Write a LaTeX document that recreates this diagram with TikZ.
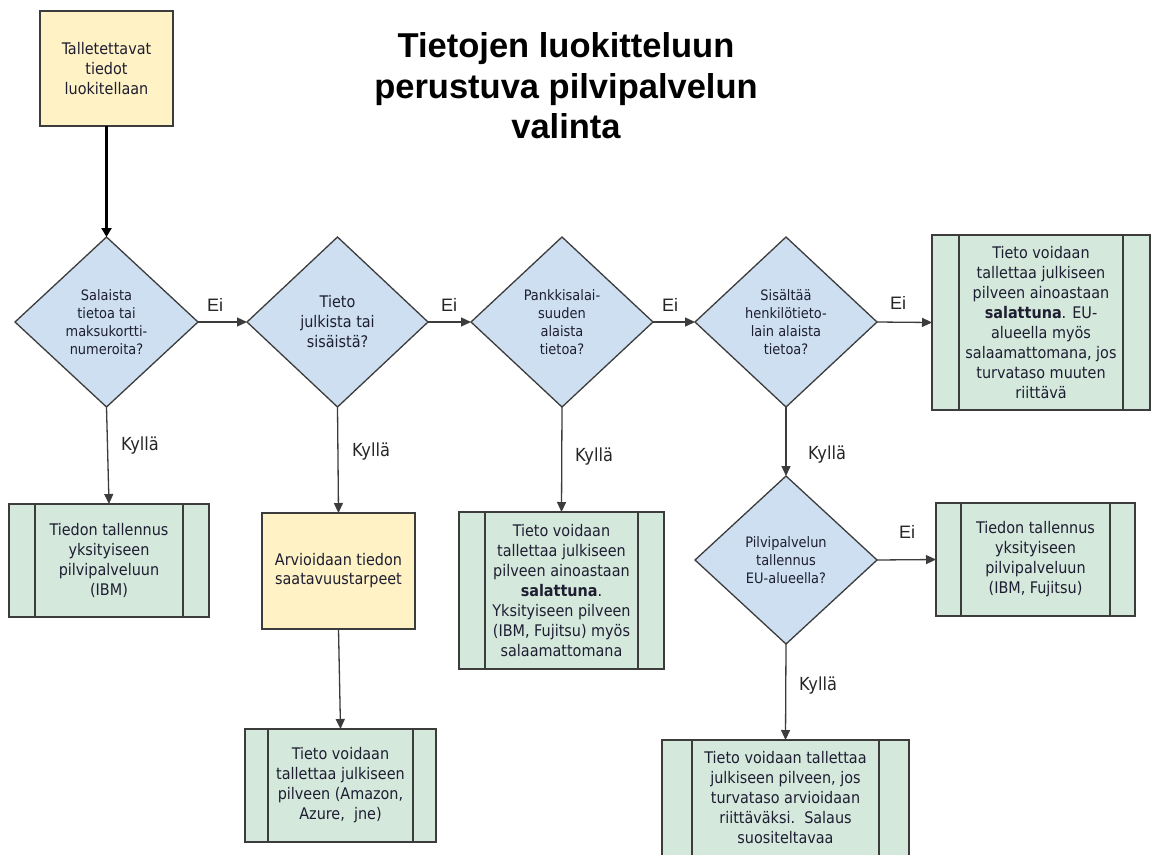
\documentclass[tikz,border=0pt]{standalone}
\usepackage{fontspec}
\setmainfont{DejaVu Sans Condensed}
\newfontfamily\headfont{Liberation Sans}
\usetikzlibrary{shapes.geometric,arrows.meta}

\definecolor{startyellow}{HTML}{FFF2C4}
\definecolor{decblue}{HTML}{CDDFF1}
\definecolor{procgreen}{HTML}{D5E8DC}
\definecolor{edgegray}{HTML}{3C3C3C}
\definecolor{inktext}{HTML}{1E1E32}

\tikzset{
  base/.style={draw=edgegray, line width=1.3pt, text=inktext, align=center,
    inner sep=0pt, outer sep=0pt},
  boxfont/.style={font=\fontsize{16}{20}\selectfont},
  startbox/.style={base, boxfont, fill=startyellow, rectangle},
  decision/.style={base, diamond, fill=decblue, aspect=1,
    font=\fontsize{14.4}{18}\selectfont},
  procbox/.style={base, boxfont, fill=procgreen, rectangle,
    path picture={
      \draw[edgegray, line width=1.3pt]
        ([xshift=#1]path picture bounding box.north west) --
        ([xshift=#1]path picture bounding box.south west)
        ([xshift=-#1]path picture bounding box.north east) --
        ([xshift=-#1]path picture bounding box.south east);}},
  arr/.style={draw=edgegray, line width=1.3pt,
    -{Triangle[length=10pt,width=9pt]}},
  mainarr/.style={draw=black, line width=2.2pt,
    -{Triangle[length=9pt,width=10pt]}},
  eilabel/.style={text=black!85, font=\headfont\fontsize{18}{20}\selectfont},
  yeslabel/.style={text=black!85, font=\fontsize{18}{20}\selectfont},
}

\begin{document}
\begin{tikzpicture}[x=1pt, y=-1pt]
  \clip (0,0) rectangle (1155,854);
  \fill[white] (0,0) rectangle (1155,854);

  % heading
  \node[align=center, font=\headfont\bfseries\fontsize{34.5}{40.5}\selectfont]
    (title) at (566,86) {Tietojen luokitteluun\\perustuva pilvipalvelun\\valinta};

  % start
  \node[startbox, minimum width=133pt, minimum height=115pt]
    (start) at (106.5,68.5) {Talletettavat\\tiedot\\luokitellaan};

  % decisions along the top row
  \node[decision, minimum width=183pt, minimum height=170pt]
    (d1) at (106.5,322) {Salaista\\tietoa tai\\maksukortti-\\numeroita?};
  \node[decision, minimum width=181pt, minimum height=170pt,
        font=\fontsize{16}{20}\selectfont]
    (d2) at (337.5,322) {Tieto\\julkista tai\\sisäistä?};
  \node[decision, minimum width=182pt, minimum height=170pt]
    (d3) at (562,322) {Pankkisalai-\\suuden\\alaista\\tietoa?};
  \node[decision, minimum width=182pt, minimum height=170pt]
    (d4) at (786,322) {Sisältää\\henkilötieto-\\lain alaista\\tietoa?};

  \node[procbox=27pt, minimum width=218pt, minimum height=175pt]
    (pTR) at (1041,322.5) {Tieto voidaan\\tallettaa julkiseen\\pilveen ainoastaan\\
      \textbf{salattuna}. EU-\\alueella myös\\salaamattomana, jos\\turvataso muuten\\riittävä};

  % second row
  \node[procbox=26pt, minimum width=200pt, minimum height=113pt]
    (p1) at (109,560.5) {Tiedon tallennus\\yksityiseen\\pilvipalveluun\\(IBM)};
  \node[startbox, minimum width=153pt, minimum height=116pt, font=\fontsize{16}{19}\selectfont]
    (y2) at (338.5,571) {Arvioidaan tiedon\\saatavuustarpeet};
  \node[procbox=26pt, minimum width=205pt, minimum height=157pt]
    (p3) at (561.5,590.5) {Tieto voidaan\\tallettaa julkiseen\\pilveen ainoastaan\\
      \textbf{salattuna}.\\Yksityiseen pilveen\\(IBM, Fujitsu) myös\\salaamattomana};
  \node[decision, minimum width=182pt, minimum height=168pt]
    (d5) at (786,560) {Pilvipalvelun\\tallennus\\EU-alueella?};
  \node[procbox=25pt, minimum width=199pt, minimum height=113pt]
    (pR) at (1035.5,559.5) {Tiedon tallennus\\yksityiseen\\pilvipalveluun\\(IBM, Fujitsu)};

  % bottom row
  \node[procbox=23pt, minimum width=191pt, minimum height=113pt]
    (pA) at (340.5,785.5) {Tieto voidaan\\tallettaa julkiseen\\pilveen (Amazon,\\Azure,\ \ jne)};
  \node[procbox=30pt, minimum width=247pt, minimum height=116pt]
    (pB) at (785.5,798) {Tieto voidaan tallettaa\\julkiseen pilveen, jos\\turvataso arvioidaan\\
      riittäväksi.\ \ Salaus\\suositeltavaa};

  % connectors
  \draw[mainarr] (start.south) -- (d1.north);
  \draw[arr] (d1.east) -- (d2.west);
  \draw[arr] (d2.east) -- (d3.west);
  \draw[arr] (d3.east) -- (d4.west);
  \draw[arr] (d4.east) -- (pTR.west);
  \draw[arr] (d1.south) -- (p1.north);
  \draw[arr] (d2.south) -- (y2.north);
  \draw[arr] (y2.south) -- (pA.north);
  \draw[arr] (d3.south) -- (p3.north);
  \draw[arr] (d4.south) -- (d5.north);
  \draw[arr] (d5.east) -- (pR.west);
  \draw[arr] (d5.south) -- (pB.north);

  % branch labels
  \node[eilabel] (e1) at (215,305) {Ei};
  \node[eilabel] (e2) at (449,305) {Ei};
  \node[eilabel] (e3) at (670,305) {Ei};
  \node[eilabel] (e4) at (898,303) {Ei};
  \node[eilabel] (e5) at (907,532) {Ei};
  \node[yeslabel] (k1) at (140,446) {Kyllä};
  \node[yeslabel] (k2) at (371,452) {Kyllä};
  \node[yeslabel] (k3) at (594,457) {Kyllä};
  \node[yeslabel] (k4) at (827,455) {Kyllä};
  \node[yeslabel] (k5) at (818,686) {Kyllä};
\end{tikzpicture}
\end{document}
